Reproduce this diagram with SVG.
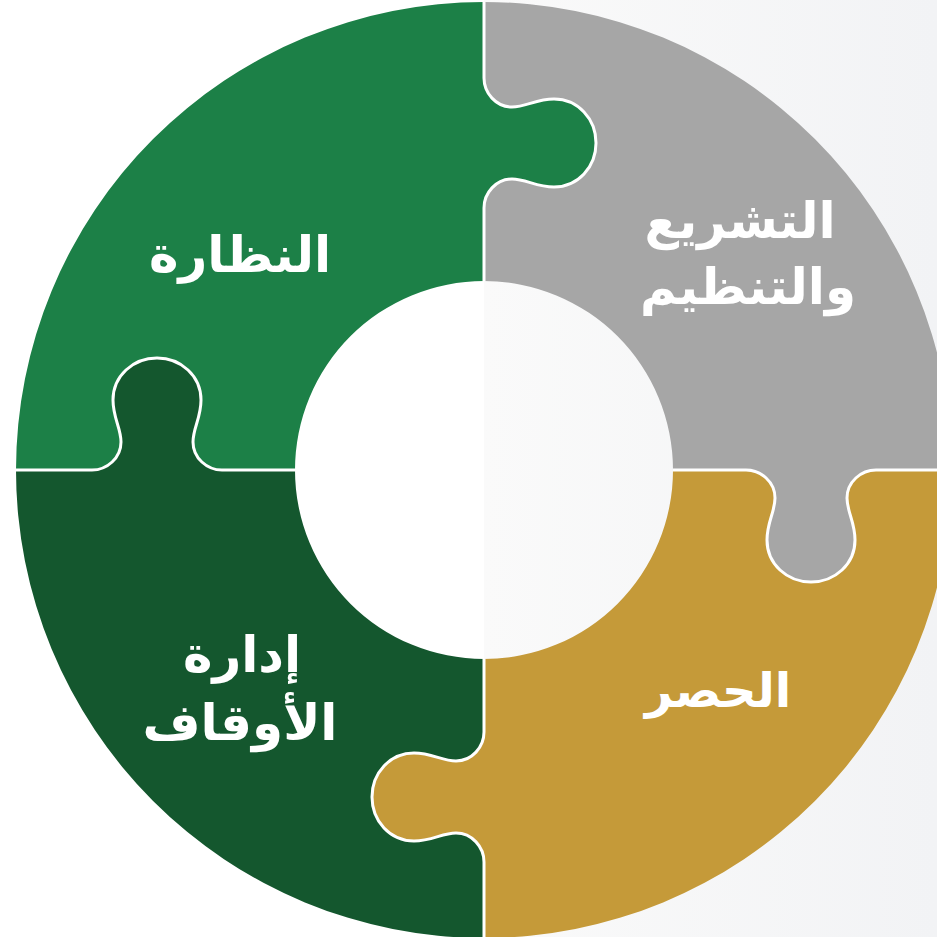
<svg xmlns="http://www.w3.org/2000/svg" xmlns:xlink="http://www.w3.org/1999/xlink" width="937" height="937" viewBox="0 0 937 937">
  <defs>
    <linearGradient id="bg" x1="0" y1="0" x2="1" y2="0">
      <stop offset="0" stop-color="#fafafa"/>
      <stop offset="1" stop-color="#f2f3f5"/>
    </linearGradient>
    <path id="piece" d="M 16 470 A 468 468 0 0 1 484 2 L 484 78 C 484 93 496 107 512 107 C 526 107 536 99 554 99 C 578 99 596 119 596 143 C 596 167 578 187 554 187 C 536 187 526 179 512 179 C 496 179 484 193 484 208 L 484 281 A 189 189 0 0 0 295 470 L 222 470 C 207 470 193 458 193 442 C 193 428 201 418 201 400 C 201 376 181 358 157 358 C 133 358 113 376 113 400 C 113 418 121 428 121 442 C 121 458 107 470 92 470 Z"/>
    <path id="seam" d="M 484 2 L 484 78 C 484 93 496 107 512 107 C 526 107 536 99 554 99 C 578 99 596 119 596 143 C 596 167 578 187 554 187 C 536 187 526 179 512 179 C 496 179 484 193 484 208 L 484 281"/>
  </defs>
  <style>
    .seam { fill: none; stroke: #ffffff; stroke-width: 3; stroke-linejoin: round; }
    .label { font-family: "DejaVu Sans", "Noto Sans", sans-serif; font-weight: bold; fill: #ffffff; text-anchor: middle; }
  </style>
  <rect x="0" y="0" width="937" height="937" fill="#ffffff"/>
  <rect x="484" y="0" width="453" height="937" fill="url(#bg)"/>

  <g id="node-nazara">
    <use xlink:href="#piece" fill="#1c8047"/>
    <text class="label" x="240" y="272" font-size="50">النظارة</text>
  </g>
  <g id="node-tashree">
    <use xlink:href="#piece" fill="#a6a6a6" transform="rotate(90 484 470)"/>
    <text class="label" x="740" y="238" font-size="50">التشريع</text>
    <text class="label" x="748" y="304" font-size="50">والتنظيم</text>
  </g>
  <g id="node-hasr">
    <use xlink:href="#piece" fill="#c59a39" transform="rotate(180 484 470)"/>
    <text class="label" x="718" y="707" font-size="48">الحصر</text>
  </g>
  <g id="node-idara">
    <use xlink:href="#piece" fill="#14572e" transform="rotate(270 484 470)"/>
    <text class="label" x="242" y="672" font-size="50">إدارة</text>
    <text class="label" x="240" y="740" font-size="50">الأوقاف</text>
  </g>
  <g id="connectors">
    <use xlink:href="#seam" class="seam"/>
    <use xlink:href="#seam" class="seam" transform="rotate(90 484 470)"/>
    <use xlink:href="#seam" class="seam" transform="rotate(180 484 470)"/>
    <use xlink:href="#seam" class="seam" transform="rotate(270 484 470)"/>
  </g>
</svg>
